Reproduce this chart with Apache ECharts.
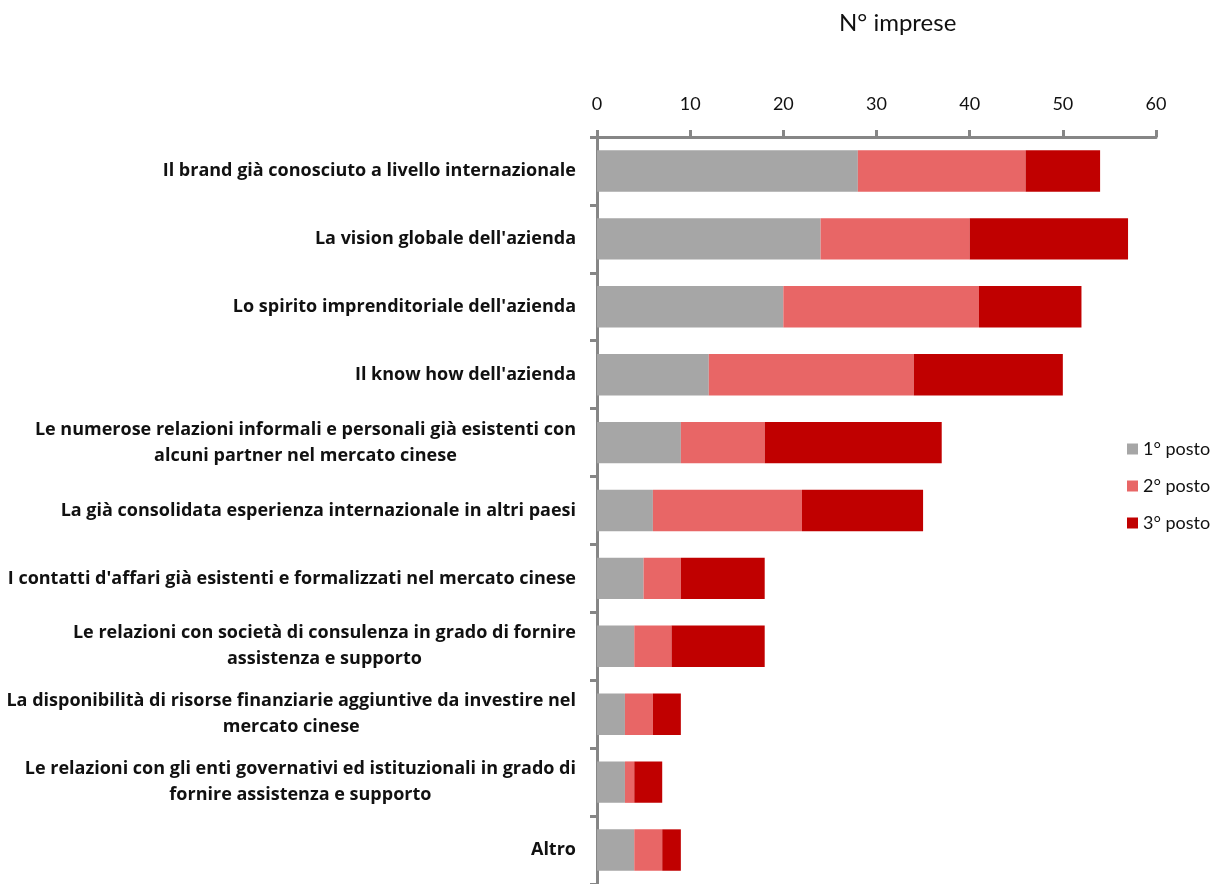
<!DOCTYPE html>
<html lang="it">
<head>
    <meta charset="UTF-8">
    <title>N° imprese</title>
    <style>
        html, body { margin: 0; padding: 0; background: #fff; }
    </style>
</head>
<body>
    <div id="bars" style="width: 1212px;height: 884px"></div>

    <script src="https://cdn.jsdelivr.net/npm/echarts@6/dist/echarts.min.js"></script>
    <script>
        // categorie (dall'alto in basso)
        var categorie = [
            "Il brand già conosciuto a livello internazionale",
            "La vision globale dell'azienda",
            "Lo spirito imprenditoriale dell'azienda",
            "Il know how dell'azienda",
            "Le numerose relazioni informali e personali già esistenti con\nalcuni partner nel mercato cinese",
            "La già consolidata esperienza internazionale in altri paesi",
            "I contatti d'affari già esistenti e formalizzati nel mercato cinese",
            "Le relazioni con società di consulenza in grado di fornire\nassistenza e supporto",
            "La disponibilità di risorse finanziarie aggiuntive da investire nel\nmercato cinese",
            "Le relazioni con gli enti governativi ed istituzionali in grado di\nfornire assistenza e supporto",
            "Altro"
        ];
        var posto1 = [28, 24, 20, 12, 9, 6, 5, 4, 3, 3, 4];
        var posto2 = [18, 16, 21, 22, 9, 16, 4, 4, 3, 1, 3];
        var posto3 = [8, 17, 11, 16, 19, 13, 9, 10, 3, 3, 2];
        var nomiSerie = ['1° posto', '2° posto', '3° posto'];
        var colori = ['#a6a6a6', '#e86666', '#c00000'];
        var tickX = { min: 0, max: 60, interval: 10 };

        var myChart = echarts.init(document.getElementById('bars'));
        var fontBase = 'Lato, "Open Sans", sans-serif';

        myChart.setOption({
            animation: false,
            color: colori,
            title: {
                text: 'N° imprese',
                left: 834,
                top: 6,
                textStyle: { fontFamily: fontBase, fontSize: 24, fontWeight: 'normal', color: '#111' }
            },
            legend: {
                data: nomiSerie,
                orient: 'vertical',
                left: 1122,
                top: 435,
                itemWidth: 11,
                itemHeight: 11,
                itemGap: 19,
                icon: 'rect',
                textStyle: { fontFamily: fontBase, fontSize: 18, color: '#111' }
            },
            grid: {
                left: 597,
                right: 56,
                top: 137,
                height: 753,
                containLabel: false
            },
            xAxis: {
                type: 'value',
                position: 'top',
                min: tickX.min,
                max: tickX.max,
                interval: tickX.interval,
                splitLine: { show: false },
                axisLine: { show: true, lineStyle: { color: '#868686', width: 3 } },
                axisTick: { show: true, length: 7, lineStyle: { color: '#868686', width: 3 } },
                axisLabel: { margin: 24, fontFamily: fontBase, fontSize: 18, color: '#111' }
            },
            yAxis: {
                type: 'category',
                inverse: true,
                data: categorie,
                axisLine: { show: true, lineStyle: { color: '#868686', width: 3 } },
                axisTick: { show: true, length: 7, lineStyle: { color: '#868686', width: 3 } },
                axisLabel: {
                    margin: 21,
                    align: 'right',
                    formatter: function (v) {
                        return v.split('\n').map(function (r) { return '{c|' + r + '}'; }).join('\n');
                    },
                    rich: {
                        c: {
                            align: 'center',
                            fontFamily: '"Open Sans", sans-serif',
                            fontSize: 18,
                            fontWeight: 'bold',
                            color: '#111',
                            lineHeight: 26
                        }
                    }
                }
            },
            series: [
                { name: nomiSerie[0], type: 'bar', stack: 'tot', barCategoryGap: '39%', data: posto1 },
                { name: nomiSerie[1], type: 'bar', stack: 'tot', barCategoryGap: '39%', data: posto2 },
                { name: nomiSerie[2], type: 'bar', stack: 'tot', barCategoryGap: '39%', data: posto3 }
            ]
        });
    </script>
</body>
</html>
